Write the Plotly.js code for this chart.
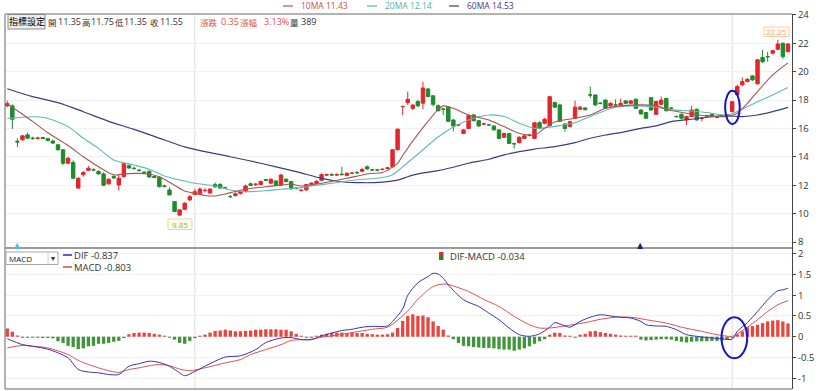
<!DOCTYPE html>
<html><head><meta charset="utf-8">
<script src="https://cdn.plot.ly/plotly-3.0.1.min.js"></script>
<style>html,body{margin:0;padding:0;background:#fff;}#chart{width:819px;height:391px;}</style>
</head><body><div id="chart"></div>
<script>
// ---------- price candles ----------
const open = [17.6,17.59,15.1,15.2,15.55,15.32,15.3,15.36,15.28,15.12,
14.85,14.5,13.55,13.6,11.8,12.75,13.05,13.1,12.97,12.8,
12.1,12.62,12.02,12.62,13.38,13.2,13.05,12.92,12.98,12.62,
12.56,11.95,11.67,10.85,9.9,10.31,10.97,11.35,11.4,11.62,
11.45,12.05,12.05,11.83,11.2,11.27,11.43,11.57,12.1,12.05,
12.05,12.4,12.15,12.3,12.0,12.42,12.27,11.8,11.62,11.68,
12.05,12.13,12.35,12.72,12.74,12.72,12.78,12.68,12.85,12.9,
12.98,13.3,13.08,13.08,13.12,13.2,13.3,14.5,17.55,17.82,
17.42,17.9,17.78,18.78,18.3,17.6,17.37,17.5,16.6,16.25,
15.65,16.0,16.95,16.55,16.32,16.25,16.18,15.9,15.38,15.65,
14.93,15.0,15.3,15.53,15.3,16.41,16.37,16.2,17.82,17.66,
16.32,16.13,16.72,17.36,17.44,18.37,18.36,17.78,18.0,17.59,
17.66,17.63,17.94,17.77,18.06,17.3,17.12,18.17,17.0,17.7,
18.12,17.43,16.85,17.0,16.6,16.84,17.35,16.72,16.88,17.0,
16.8,16.9,16.9,17.19,18.36,19.07,19.3,19.7,19.14,21.0,
21.06,21.3,21.58,22.0,21.41];
const high = [17.95,17.7,15.3,15.55,15.7,15.42,15.42,15.42,15.35,15.2,
14.9,14.55,14.0,13.75,12.55,13.0,13.35,13.2,13.05,12.9,
12.5,12.7,12.73,13.6,13.45,13.3,13.15,13.0,13.05,12.7,
12.6,12.05,11.85,10.9,10.3,10.8,11.3,11.75,11.85,11.8,
11.8,12.2,12.15,11.9,11.3,11.5,11.6,12.05,12.2,12.15,
12.32,12.45,12.5,12.35,12.8,12.5,12.3,11.85,11.72,12.1,
12.2,12.35,12.85,12.82,12.85,12.85,13.3,12.9,12.95,13.0,
13.2,13.4,13.15,13.15,13.2,13.3,14.55,16.0,17.6,18.6,
17.7,18.0,19.3,18.85,18.35,17.7,17.45,17.55,16.65,16.3,
15.95,17.0,17.0,16.6,16.4,16.3,16.2,15.95,15.7,15.7,
15.0,15.45,15.55,15.6,16.45,16.5,16.75,18.3,17.9,17.7,
16.35,16.55,17.96,17.6,17.5,18.95,18.4,17.85,18.05,17.85,
18.05,18.1,18.0,18.0,18.1,17.35,17.15,18.2,17.95,18.25,
18.15,17.5,16.9,17.05,16.9,17.6,17.4,16.8,16.95,17.05,
16.88,16.95,17.0,17.95,19.1,19.6,19.55,19.75,20.9,21.53,
21.4,21.55,22.25,22.05,22.0];
const low = [17.5,15.95,14.7,15.15,15.25,15.2,15.22,15.25,15.1,14.9,
14.45,13.42,13.5,12.45,11.75,12.6,13.0,13.0,12.75,11.95,
12.05,12.45,11.63,12.55,13.15,13.1,12.95,12.82,12.55,12.5,
11.85,11.85,11.3,10.1,9.85,10.25,10.9,11.35,11.35,11.5,
11.42,11.85,11.75,11.75,11.1,11.22,11.35,11.5,11.95,11.95,
12.0,12.3,12.1,11.95,11.95,12.2,11.65,11.7,11.58,11.6,
12.0,12.1,12.3,12.65,12.65,12.65,12.7,12.65,12.8,12.8,
12.95,13.1,13.0,13.0,13.05,13.15,13.25,14.45,16.95,17.65,
17.3,17.5,17.35,18.2,17.55,17.2,16.95,16.45,15.8,16.15,
15.6,15.95,16.5,16.1,16.25,16.2,15.85,15.25,15.35,14.9,
14.6,14.95,15.25,15.45,15.25,15.95,16.3,16.15,17.45,16.45,
15.78,16.1,16.65,17.3,17.28,18.13,17.6,17.7,17.38,17.55,
17.6,17.6,17.72,17.72,17.38,16.98,16.68,17.25,16.95,17.65,
17.2,17.35,16.75,16.65,16.25,16.8,16.55,16.5,16.8,16.85,
16.72,16.85,16.85,17.15,18.3,19.0,19.25,19.35,19.1,20.6,
20.7,21.2,21.5,20.9,21.35];
const close = [17.75,16.65,15.05,15.48,15.32,15.3,15.32,15.3,15.15,14.97,
14.5,13.55,13.9,12.5,12.5,12.9,13.2,13.08,12.8,12.0,
12.42,12.52,12.5,13.52,13.22,13.18,13.05,12.9,12.58,12.55,
11.9,11.93,11.32,10.15,10.27,10.74,11.2,11.55,11.73,11.64,
11.73,11.88,11.8,11.82,11.2,11.4,11.57,11.95,12.0,12.08,
12.27,12.35,12.42,12.0,12.72,12.27,11.8,11.78,11.65,12.05,
12.15,12.28,12.75,12.74,12.72,12.75,12.75,12.85,12.85,12.88,
13.12,13.15,13.08,13.07,13.12,13.22,14.5,15.95,17.55,18.05,
17.65,17.6,18.85,18.25,17.7,17.25,17.35,16.5,16.18,16.25,
15.9,16.9,16.55,16.18,16.32,16.25,15.9,15.3,15.65,14.95,
14.92,15.38,15.48,15.53,16.4,16.01,16.65,18.24,17.5,16.5,
16.0,16.48,17.5,17.5,17.32,18.35,17.66,17.77,17.42,17.77,
17.66,17.77,17.77,17.94,17.42,17.02,16.72,17.3,17.9,18.0,
17.25,17.42,16.84,16.72,16.84,17.3,16.6,16.72,16.9,16.88,
16.8,16.88,16.95,17.89,18.95,19.3,19.46,19.42,20.83,20.7,
21.05,21.48,21.95,21.06,21.95];

// ---------- moving averages (read at sample candles) ----------
const ma10Idx = [0,3,5,8,12,15,18,21,23,25,28,30,33,35,37,39,41,44,47,51,54,56,58,62,67,71,74,75,76,77,78,81,83,85,86,88,91,95,98,101,104,106,108,112,115,118,121,125,128,131,135,138,142,144,146,148,151,154];
const ma10Val = [17.73,17.0,16.5,15.7,14.8,14.01,13.31,12.73,12.8,12.84,12.8,12.6,12.0,11.6,11.43,11.28,11.25,11.48,11.72,11.9,12.0,12.09,11.95,12.14,12.49,12.8,12.9,13.05,13.3,13.55,14.1,15.6,16.5,17.35,17.59,17.42,16.95,16.6,16.13,15.66,15.54,16.01,16.45,16.72,16.95,17.42,17.59,17.66,17.59,17.26,17.02,16.88,16.84,17.07,17.77,18.6,19.77,20.62];
const ma20Idx = [0,7,12,15,18,21,25,28,31,34,37,41,44,47,51,54,57,60,64,67,70,73,76,78,81,85,88,91,95,98,101,104,106,109,112,115,120,125,128,131,135,138,142,144,148,151,154];
const ma20Val = [16.7,16.79,16.13,15.31,14.6,13.78,13.43,13.13,12.65,12.37,12.14,11.95,11.67,11.55,11.62,11.72,11.79,11.95,12.14,12.3,12.42,12.49,12.75,13.3,14.2,15.4,16.1,16.6,16.95,16.84,16.37,16.01,16.05,16.2,16.4,16.84,17.49,17.59,17.49,17.31,17.23,17.12,16.95,17.2,17.89,18.36,18.88];
const ma60Idx = [0,5,10,15,20,25,31,35,38,44,50,57,62,66,70,74,77,79,81,85,88,91,95,98,101,104,108,112,115,118,122,125,128,131,135,138,142,145,148,151,154];
const ma60Val = [18.8,18.24,17.82,17.18,16.5,15.94,15.19,14.7,14.44,14.01,13.55,12.96,12.49,12.25,12.18,12.22,12.36,12.6,12.8,13.03,13.27,13.55,13.83,14.14,14.37,14.55,14.72,15.0,15.31,15.54,15.78,16.01,16.18,16.48,16.65,16.79,16.88,16.84,16.95,17.19,17.49];

// ---------- MACD panel ----------
const oscVal = [0.2,0.12,0.03,-0.025,-0.025,-0.025,-0.025,-0.03,-0.03,-0.04,
-0.11,-0.15,-0.22,-0.25,-0.3,-0.28,-0.23,-0.22,-0.17,-0.17,
-0.15,-0.12,-0.1,-0.03,0.06,0.09,0.1,0.1,0.09,0.07,
0.05,0.025,-0.025,-0.07,-0.15,-0.17,-0.1,-0.034,0.025,0.05,
0.1,0.14,0.15,0.17,0.15,0.13,0.13,0.14,0.15,0.17,
0.17,0.18,0.18,0.18,0.17,0.17,0.13,0.07,0.025,-0.025,
-0.025,0.025,0.05,0.07,0.09,0.1,0.1,0.09,0.09,0.09,
0.09,0.07,0.06,0.05,0.05,0.06,0.1,0.21,0.38,0.5,
0.54,0.5,0.51,0.47,0.37,0.26,0.17,0.03,-0.06,-0.15,
-0.22,-0.23,-0.25,-0.26,-0.27,-0.27,-0.28,-0.3,-0.31,-0.31,
-0.34,-0.31,-0.28,-0.23,-0.17,-0.11,-0.06,0.05,0.1,0.09,
0.03,0.025,-0.025,0.05,0.07,0.13,0.14,0.11,0.09,0.07,
0.05,0.03,0.025,0.025,0.025,-0.07,-0.09,-0.08,-0.07,-0.06,
-0.06,-0.07,-0.1,-0.12,-0.14,-0.12,-0.11,-0.11,-0.11,-0.1,
-0.1,-0.09,-0.07,-0.025,0.06,0.13,0.23,0.26,0.29,0.33,
0.37,0.39,0.4,0.37,0.32];
const difIdx = [0,3,5,8,12,14,16,18,20,22,24,26,28,30,32,34,35,37,39,43,46,49,51,54,56,58,60,62,64,66,68,70,72,75,76,78,79,81,83,84,85,86,87,90,93,95,97,99,101,103,105,107,108,110,111,113,115,117,119,121,123,125,126,128,130,132,134,136,139,141,143,144,146,148,150,152,153,154];
const difVal = [-0.05,-0.19,-0.23,-0.3,-0.51,-0.79,-0.85,-0.87,-0.91,-0.91,-0.71,-0.65,-0.59,-0.62,-0.71,-0.87,-0.94,-0.837,-0.71,-0.49,-0.46,-0.31,-0.14,-0.03,-0.02,-0.07,-0.07,0.02,0.09,0.15,0.18,0.23,0.25,0.26,0.37,0.67,1.0,1.3,1.45,1.53,1.51,1.41,1.25,0.89,0.73,0.57,0.41,0.21,0.05,0.01,0.07,0.23,0.34,0.26,0.23,0.37,0.47,0.53,0.5,0.47,0.45,0.37,0.29,0.26,0.25,0.17,0.05,0.01,-0.03,-0.05,-0.06,0.13,0.34,0.61,0.89,1.11,1.13,1.17];
const macdIdx = [0,3,5,8,12,14,16,18,20,22,24,26,28,30,32,34,36,37,39,43,46,48,51,54,56,58,60,62,64,66,68,70,72,75,77,79,81,84,86,87,91,94,97,100,103,105,107,110,114,117,120,123,127,130,133,137,140,143,144,146,148,150,152,154];
const macdVal = [-0.27,-0.21,-0.23,-0.27,-0.43,-0.57,-0.67,-0.75,-0.82,-0.86,-0.79,-0.75,-0.7,-0.67,-0.7,-0.78,-0.82,-0.803,-0.75,-0.63,-0.55,-0.43,-0.31,-0.19,-0.09,-0.07,-0.06,-0.01,0.02,0.06,0.1,0.14,0.18,0.23,0.4,0.62,0.9,1.21,1.27,1.26,1.09,0.9,0.73,0.49,0.29,0.21,0.21,0.26,0.34,0.42,0.47,0.47,0.39,0.33,0.23,0.13,0.05,0.01,0.07,0.23,0.41,0.61,0.77,0.87];

// ---------- tick labels & texts ----------
const priceTicks = [8,10,12,14,16,18,20,22,24];
const macdTicks = [-1,-0.5,0,0.5,1,1.5,2];
const macdTickText = ['-1','-0.5','0','0.5','1','1.5','2'];
const cursorIdx = 37, markIdx = 143;
const signalIdx = [2, 125];
const signalColor = ['#3cc8e0', '#1c1c78'];

const idx = open.map((_, i) => i);

// pixel helpers for decorations (plot area 5..792 x 14..389)
const L = 5, R = 792, T = 14, B = 389;
const px = x => (x - L) / (R - L);
const py = y => (B - y) / (B - T);
const NUM = '"Open Sans", "Noto Sans", sans-serif';
const CJK = '"Noto Sans CJK TC", "Noto Sans", sans-serif';

const traces = [
  {type:'candlestick', x: idx, open, high, low, close, xaxis:'x', yaxis:'y',
   increasing:{line:{color:'#e3262b', width:1}, fillcolor:'#e3262b'},
   decreasing:{line:{color:'#1f8a2e', width:1}, fillcolor:'#1f8a2e'},
   whiskerwidth:0, hoverinfo:'skip'},
  {type:'scatter', mode:'lines', x: ma60Idx, y: ma60Val, yaxis:'y', hoverinfo:'skip',
   line:{color:'#3b3b86', width:1.2, shape:'spline', smoothing:0.8}},
  {type:'scatter', mode:'lines', x: ma20Idx, y: ma20Val, yaxis:'y', hoverinfo:'skip',
   line:{color:'#62b9b3', width:1.1, shape:'spline', smoothing:0.8}},
  {type:'scatter', mode:'lines', x: ma10Idx, y: ma10Val, yaxis:'y', hoverinfo:'skip',
   line:{color:'#a9544e', width:1.1, shape:'spline', smoothing:0.8}},
  {type:'bar', x: idx, y: oscVal, yaxis:'y2', hoverinfo:'skip',
   marker:{color: oscVal.map(v => v >= 0 ? '#e8453f' : '#3f963a'), line:{width:0}}},
  {type:'scatter', mode:'lines', x: macdIdx, y: macdVal, yaxis:'y2', hoverinfo:'skip',
   line:{color:'#e25050', width:1, shape:'spline', smoothing:0.8}},
  {type:'scatter', mode:'lines', x: difIdx, y: difVal, yaxis:'y2', hoverinfo:'skip',
   line:{color:'#3434b8', width:1, shape:'spline', smoothing:0.8}}
];

const shapes = [];
const ann = [];
function hline(x0, x1, y, color, w) { shapes.push({type:'line', xref:'paper', yref:'paper', x0:px(x0), x1:px(x1), y0:py(y), y1:py(y), line:{color, width:w}}); }
function vline(x, y0, y1, color, w) { shapes.push({type:'line', xref:'paper', yref:'paper', x0:px(x), x1:px(x), y0:py(y0), y1:py(y1), line:{color, width:w}}); }
function rect(x0, y0, x1, y1, fill, line) { shapes.push({type:'rect', xref:'paper', yref:'paper', x0:px(x0), x1:px(x1), y0:py(y1), y1:py(y0), fillcolor:fill, line:{color:line || fill, width: line ? 1 : 0}}); }
function txt(x, y, text, color, size, anchor, family) { ann.push({xref:'paper', yref:'paper', x:px(x), y:py(y), text, showarrow:false, xanchor:anchor || 'left', yanchor:'middle', borderpad:0, font:{size, color, family: family || NUM}}); }

// cursor / marker vertical lines
[cursorIdx, markIdx].forEach(i => shapes.push({type:'line', xref:'x', yref:'paper', x0:i, x1:i, y0:0, y1:1, line:{color:'#dcdcdc', width:1}, layer:'below'}));
// frame
vline(L, T, B, '#666', 1);
hline(L, R, T, '#9a9a9a', 1.5);
hline(L, R, 248, '#9a9a9a', 2);
hline(L, R, B, '#666', 1);

// blue hand-drawn ellipses
shapes.push({type:'circle', xref:'x', yref:'y', x0:141.6, x1:144.5, y0:16.32, y1:18.66, line:{color:'#1414c8', width:2}});
shapes.push({type:'circle', xref:'x', yref:'y2', x0:140.9, x1:145.96, y0:-0.52, y1:0.47, line:{color:'#1414c8', width:2}});

// header row
rect(8, 14.5, 45, 29, '#ececec', '#8c8c8c');
txt(26.5, 22, '指標設定', '#000', 9, 'center', CJK);
const hdr = [['開',47,1,'#333'],['11.35',57,0,'#333'],['高',81,1,'#333'],['11.75',90,0,'#333'],['低',114,1,'#333'],['11.35',123,0,'#333'],['收',149,1,'#333'],['11.55',159,0,'#333'],
             ['漲跌',199,1,'#e0504a'],['0.35',220,0,'#e0504a'],['漲幅',239,1,'#e0504a'],['3.13%',263,0,'#e0504a'],['量',289,1,'#333'],['389',300,0,'#333']];
hdr.forEach(h => txt(h[1], 22, h[0], h[3], h[2] ? 8.5 : 9, 'left', h[2] ? CJK : NUM));

// top legend
const legItems = [['10MA 11.43', 283, '#c8504c'], ['20MA 12.14', 367, '#4fb0b0'], ['60MA 14.53', 449, '#3c3c80']];
legItems.forEach(l => { hline(l[1], l[1] + 10, 6, l[2], 1.2); txt(l[1] + 17, 6, l[0], l[2], 8.5); });

// price labels
rect(168, 219, 192, 229.5, '#fdfde8', '#d9dca8');
txt(180, 224.3, '9.85', '#a4a460', 8, 'center');
rect(764, 27, 789, 36.5, '#fffaf3', '#f4cfaf');
txt(776.5, 31.8, '22.25', '#f0a878', 8, 'center');

// signal triangles
signalIdx.forEach((i, k) => ann.push({xref:'x', yref:'paper', x:i, y:py(245), text:'▲', showarrow:false, xanchor:'center', yanchor:'middle', borderpad:0, font:{size:8, color:signalColor[k], family:'DejaVu Sans'}}));

// MACD legend
rect(6, 252, 58, 264.5, '#ffffff', '#a8a8a8');
vline(48, 252, 264.5, '#d0d0d0', 1);
txt(8, 258.3, 'MACD', '#222', 8);
txt(53, 258.3, '▾', '#333', 8, 'center', 'DejaVu Sans');
hline(63, 72, 255, '#2a2ab0', 1.5);
txt(73, 255.5, 'DIF -0.837', '#333', 9.5);
hline(63, 72, 267, '#e04848', 1.5);
txt(73, 267.5, 'MACD -0.803', '#333', 9.5);
rect(439, 252, 443.5, 256, '#e03030');
rect(439, 256, 443.5, 260, '#268a26');
txt(449, 256, 'DIF-MACD -0.034', '#333', 9.5);

const axisFont = {size:9.5, color:'#333', family: NUM};
const layout = {
  width:819, height:391, margin:{l:L, r:819 - R, t:T, b:391 - B},
  paper_bgcolor:'#fff', plot_bgcolor:'#fff', showlegend:false,
  bargap:0.35, boxgap:0.25, boxgroupgap:0.1,
  xaxis:{range:[-0.45, 154.8], showgrid:false, showticklabels:false, zeroline:false, ticks:'',
         rangeslider:{visible:false}, fixedrange:true, anchor:'y2', showline:false},
  yaxis:{domain:[0.377, 1], anchor:'x', side:'right', range:[7.61, 24.06], tickvals: priceTicks,
         ticks:'outside', ticklen:3, tickcolor:'#444', showline:true, linecolor:'#444', linewidth:1,
         gridcolor:'#f1f1f1', zeroline:false, tickfont: axisFont, fixedrange:true},
  yaxis2:{domain:[0, 0.375], anchor:'x', side:'right', range:[-1.26, 2.13], tickvals: macdTicks, ticktext: macdTickText,
         ticks:'outside', ticklen:3, tickcolor:'#444', showline:true, linecolor:'#444', linewidth:1,
         gridcolor:'#f1f1f1', zeroline:false, tickfont: axisFont, fixedrange:true},
  shapes, annotations: ann
};
Plotly.newPlot('chart', traces, layout, {staticPlot:true, displayModeBar:false});
</script></body></html>
